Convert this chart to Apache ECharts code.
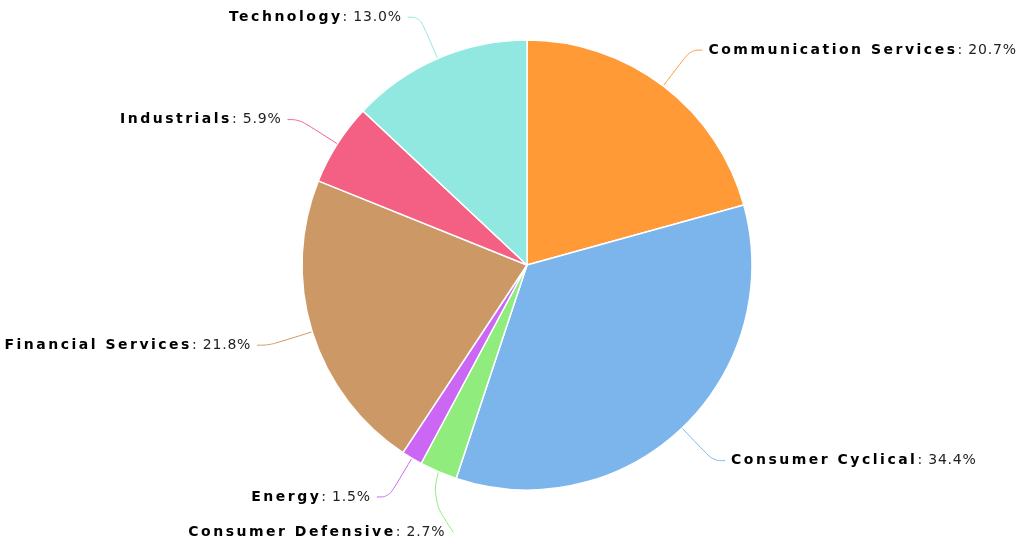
<!DOCTYPE html>
<html><head><meta charset="utf-8">
<script src="https://cdn.jsdelivr.net/npm/echarts@6/dist/echarts.min.js"></script>
<style>html,body{margin:0;padding:0;background:#fff}#c{width:1027px;height:548px}</style>
</head><body><div id="c"></div>
<script>
const categories = ["Communication Services","Consumer Cyclical","Consumer Defensive","Energy","Financial Services","Industrials","Technology"];
const values = [20.7, 34.4, 2.7, 1.5, 21.8, 5.9, 13.0];
const colors = ["#ff9a37","#7cb5ec","#90ed7d","#cc66f5","#cc9966","#f45f84","#91e8e1"];

// letter spacing for label text (canvas letterSpacing, applied to draw and measure alike)
(function(){
  const P = CanvasRenderingContext2D.prototype;
  if (!('letterSpacing' in P)) return;
  const setLS = ctx => { ctx.letterSpacing = /bold|700/.test(ctx.font) ? '2.5px' : '0.8px'; };
  const ft = P.fillText, mt = P.measureText;
  P.fillText = function(){ setLS(this); return ft.apply(this, arguments); };
  P.measureText = function(){ setLS(this); return mt.apply(this, arguments); };
})();

const chart = echarts.init(document.getElementById('c'));
chart.setOption({
  animation: false,
  series: [{
    type: 'pie',
    center: [527, 265],
    radius: [0, 225],
    startAngle: 90,
    clockwise: true,
    avoidLabelOverlap: true,
    data: categories.map((n, i) => {
      const d = {name: n, value: values[i], itemStyle: {color: colors[i]}};
      if (n === 'Consumer Defensive') d.labelLine = {length: 66, length2: 4};
      return d;
    }),
    itemStyle: {borderColor: '#fff', borderWidth: 1.5},
    label: {
      formatter: p => '{n|' + p.name + '}{v|: ' + p.value.toFixed(1) + '%}',
      rich: {
        n: {fontFamily: 'DejaVu Sans', fontWeight: 'bold', fontSize: 14, color: '#000'},
        v: {fontFamily: 'DejaVu Sans', fontSize: 14, color: '#222'}
      },
      distanceToLabelLine: 6,
      bleedMargin: 0
    },
    labelLayout: p => {
      if (p.dataIndex !== 2 || !p.labelLinePoints) return {};
      const dx = 43, r = p.labelRect, s = p.labelLinePoints[0];
      const endX = r.x + r.width + dx + 8, endY = r.y + r.height / 2;
      return {dx: dx, labelLinePoints: [[s[0], s[1]], [s[0] - 6, s[1] + 28], [endX, endY]]};
    },
    labelLine: {length: 45, length2: 12, smooth: 0.4, lineStyle: {width: 1}},
    emphasis: {disabled: true}
  }]
});
</script></body></html>
